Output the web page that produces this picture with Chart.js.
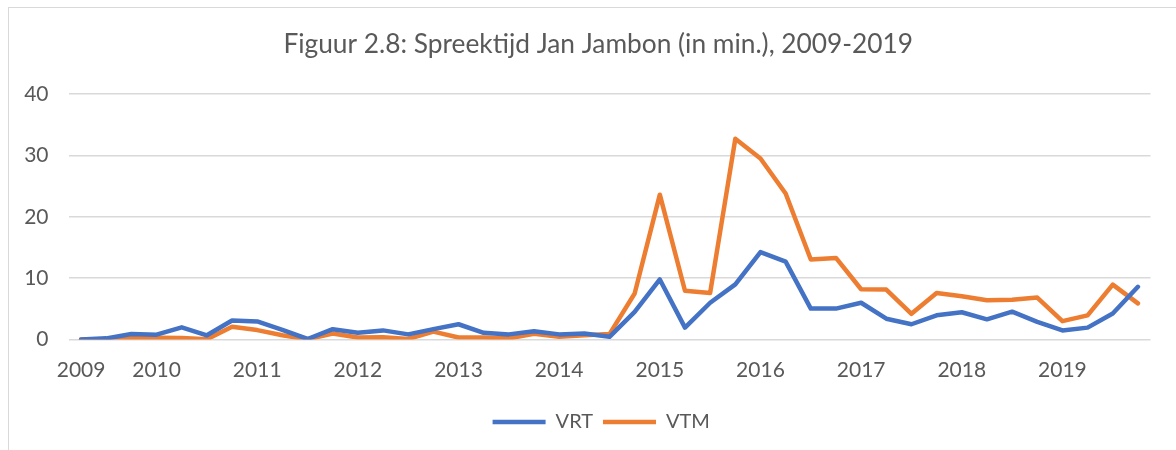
<!DOCTYPE html>
<html>
<head>
<meta charset="utf-8">
<script src="https://cdn.jsdelivr.net/npm/chart.js@4"></script>
<style>
  html, body { margin: 0; padding: 0; background: #fff; }
  #frame { position: absolute; left: 8px; top: 7px; width: 1200px; height: 460px; border: 1px solid #d9d9d9; }
  #wrap { position: absolute; left: 0; top: 0; width: 1176px; height: 450px; }
</style>
</head>
<body>
<div id="frame"></div>
<div id="wrap"><canvas id="myChart"></canvas></div>
<script>
// quarters, 2009 Q2 .. 2019 Q4
const labels = [
  "2009", "", "",
  "2010", "", "", "",
  "2011", "", "", "",
  "2012", "", "", "",
  "2013", "", "", "",
  "2014", "", "", "",
  "2015", "", "", "",
  "2016", "", "", "",
  "2017", "", "", "",
  "2018", "", "", "",
  "2019", "", "", ""
];
const vrtData = [
  0.0, 0.2, 0.9,
  0.8, 2.0, 0.7, 3.1,
  2.95, 1.6, 0.1, 1.7,
  1.1, 1.5, 0.85, 1.7,
  2.5, 1.1, 0.85, 1.35,
  0.85, 1.0, 0.45, 4.5,
  9.8, 1.95, 6.0, 9.0,
  14.25, 12.7, 5.05, 5.05,
  6.0, 3.4, 2.5, 3.95,
  4.45, 3.3, 4.55, 2.9,
  1.5, 1.95, 4.25, 8.6
];
const vtmData = [
  0.0, 0.05, 0.2,
  0.3, 0.25, 0.05, 2.1,
  1.55, 0.7, 0.05, 1.0,
  0.35, 0.4, 0.1, 1.3,
  0.35, 0.35, 0.2, 0.95,
  0.45, 0.7, 0.9, 7.5,
  23.6, 7.95, 7.6, 32.7,
  29.5, 23.8, 13.05, 13.3,
  8.2, 8.15, 4.2, 7.6,
  7.07, 6.4, 6.5, 6.85,
  3.0, 3.95, 8.95, 5.9
];
const yTicks = [0, 10, 20, 30, 40];

const font = "Lato, 'Open Sans', sans-serif";
const textColor = "#595959";

// title and legend are centred a bit right of the canvas middle in the original
const shiftBoxes = {
  id: "shiftBoxes",
  afterLayout(chart) {
    const shift = (box, dx) => {
      if (!box) return;
      box.left += dx;
      box.right += dx;
    };
    shift(chart.titleBlock, 23);
    shift(chart.legend, 26);
  },
};

const ctx = document.getElementById("myChart").getContext("2d");
const myChart = new Chart(ctx, {
  type: "line",
  data: {
    labels: labels,
    datasets: [
      {
        label: "VRT",
        data: vrtData,
        borderColor: "#4472C4",
        backgroundColor: "#4472C4",
        borderWidth: 4.5,
        borderCapStyle: "round",
        borderJoinStyle: "round",
        pointRadius: 0,
        pointStyle: "line",
        tension: 0,
      },
      {
        label: "VTM",
        data: vtmData,
        borderColor: "#ED7D31",
        backgroundColor: "#ED7D31",
        borderWidth: 4.5,
        borderCapStyle: "round",
        borderJoinStyle: "round",
        pointRadius: 0,
        pointStyle: "line",
        tension: 0,
      },
    ],
  },
  plugins: [shiftBoxes],
  options: {
    responsive: true,
    maintainAspectRatio: false,
    animation: false,
    layout: { padding: { left: 0, right: 25.5, bottom: 8 } },
    plugins: {
      title: {
        display: true,
        text: "Figuur 2.8: Spreektijd Jan Jambon (in min.), 2009-2019",
        color: textColor,
        font: { family: font, size: 26.3, weight: "normal" },
        padding: { top: 29.2, bottom: 33.2 },
      },
      legend: {
        position: "bottom",
        labels: {
          usePointStyle: true,
          pointStyleWidth: 53,
          color: textColor,
          font: { family: font, size: 20 },
          padding: 10,
        },
      },
      tooltip: { enabled: false },
    },
    scales: {
      x: {
        offset: true,
        grid: { display: false },
        border: { display: false },
        ticks: {
          autoSkip: false,
          maxRotation: 0,
          color: textColor,
          font: { family: font, size: 21 },
          padding: 10,
        },
        afterFit: (s) => { s.height = 62.4; },
      },
      y: {
        min: 0,
        max: 40,
        afterBuildTicks: (s) => { s.ticks = yTicks.map((v) => ({ value: v })); },
        grid: { color: "#d9d9d9", lineWidth: 1.5, drawTicks: false },
        border: { display: false },
        ticks: {
          color: textColor,
          font: { family: font, size: 21 },
          padding: 20,
        },
        afterFit: (s) => { s.width = 68.5; },
      },
    },
  },
});
</script>
</body>
</html>
